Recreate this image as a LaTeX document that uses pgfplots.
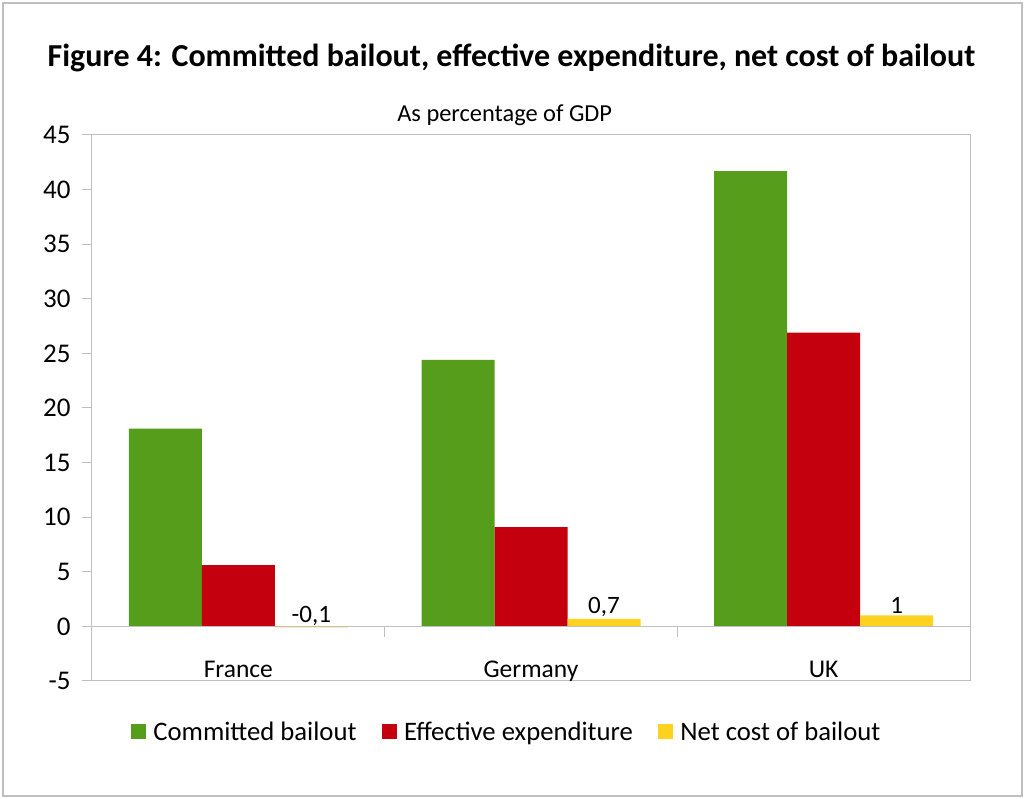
\documentclass[border=0pt]{standalone}
\usepackage{pgfplots}
\pgfplotsset{compat=1.18}
\usepackage{fontspec}
\setmainfont{Carlito}
\definecolor{cgreen}{RGB}{87,157,28}
\definecolor{cred}{RGB}{196,0,14}
\definecolor{cyellow}{RGB}{255,210,32}
\definecolor{cframe}{RGB}{191,191,191}
\begin{document}
\begin{tikzpicture}[x=1pt,y=1pt]
\useasboundingbox (-92,-118) rectangle (933,681);
\draw[cframe, line width=1.2pt] (-89,-115) rectangle (930,678);
\node[anchor=base, font=\bfseries\fontsize{32}{36}\selectfont] at (419.5,614) {Figure 4: Committed bailout, effective expenditure, net cost of bailout};
\begin{axis}[
  at={(0,0)}, anchor=south west,
  scale only axis, width=878pt, height=546pt,
  ymin=-5, ymax=45, ytick={-5,0,...,45},
  yticklabels={-5,0,5,10,15,20,25,30,35,40,45},
  xmin=-0.5, xmax=2.5,
  xtick={0,1,2}, xticklabels={France,Germany,UK},
  ybar=0pt, bar width=73pt,
  axis line style={cframe, line width=1pt},
  ytick style={cframe, line width=1pt},
  ytick pos=left,
  tick align=outside, major tick length=10pt,
  xtick style={draw=none},
  every y tick label/.append style={font=\fontsize{27}{32}\selectfont},
  yticklabel style={anchor=east, xshift=-8pt},
  xticklabel style={font=\fontsize{25.5}{30}\selectfont, anchor=base, yshift=13pt},
  title={As percentage of GDP},
  title style={at={(0.470,1)}, anchor=base, yshift=7pt, font=\fontsize{24.4}{28}\selectfont},
  legend style={at={(0.472,-0.0925)}, anchor=center, draw=none, fill=none,
    legend columns=3, font=\fontsize{26.7}{32}\selectfont,
    nodes={inner xsep=1pt},
    /tikz/every odd column/.append style={column sep=6pt},
    /tikz/every even column/.append style={column sep=24.5pt}},
  legend image code/.code={\path[#1, draw=none] (0pt,-7.5pt) rectangle (15pt,7.5pt);},
  nodes near coords align={anchor=south},
]
\addplot[fill=cgreen, draw=none] coordinates {(0,18.1) (1,24.4) (2,41.7)};
\addlegendentry{Committed bailout}
\addplot[fill=cred, draw=none] coordinates {(0,5.6) (1,9.1) (2,26.9)};
\addlegendentry{Effective expenditure}
\addplot[fill=cyellow, draw=none,
  point meta=explicit symbolic, nodes near coords,
  every node near coord/.append style={font=\fontsize{25}{30}\selectfont, black, inner ysep=2pt}]
  coordinates {(0,-0.1) [-0,1] (1,0.7) [0,7] (2,1) [1]};
\addlegendentry{Net cost of bailout}
\draw[cframe, line width=1pt] (axis cs:-0.5,0) -- (axis cs:2.5,0);
\draw[cframe, line width=1pt] (axis cs:0.5,0) -- ([yshift=-11pt]axis cs:0.5,0);
\draw[cframe, line width=1pt] (axis cs:1.5,0) -- ([yshift=-11pt]axis cs:1.5,0);
\end{axis}
\end{tikzpicture}
\end{document}
